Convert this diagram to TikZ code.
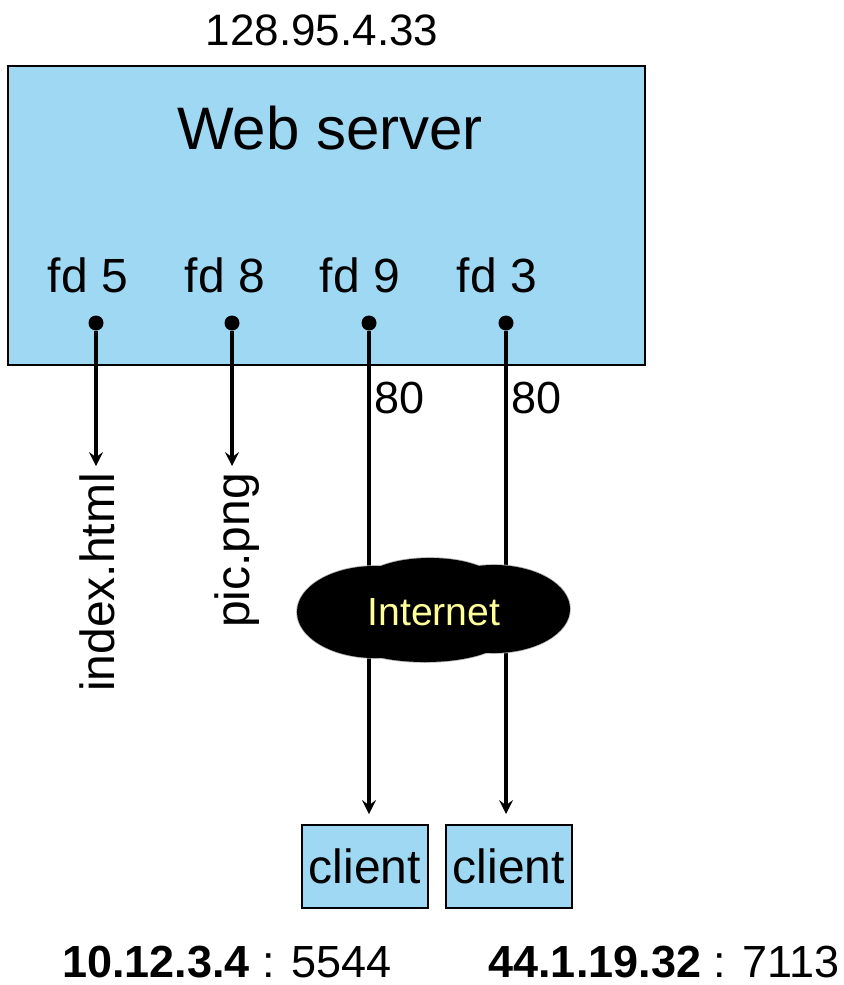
\documentclass[tikz,border=0pt]{standalone}
\usepackage{fontspec}
\setmainfont{Liberation Sans}
\usetikzlibrary{arrows}
\definecolor{srvblue}{HTML}{9FD8F2}
\definecolor{netyellow}{HTML}{FFFF99}

\begin{document}
\begin{tikzpicture}[x=0.5pt,y=-0.5pt,
  box/.style={draw=black, line width=1pt, fill=srvblue, inner sep=0pt},
  fdlabel/.style={font=\fontsize{24}{26}\selectfont},
  socket/.style={circle, fill=black, inner sep=0pt, minimum size=7.5pt},
  link/.style={line width=2pt, >=stealth},
  puff/.style={fill=black, draw=gray!60, line width=0.8pt},
  addr/.style={font=\fontsize{22.5}{24}\selectfont}]
\useasboundingbox (0,0) rectangle (844,985);
% server
\node[box, minimum width=318.5pt, minimum height=149.5pt] (srv) at (326.5,215.5) {};
\node[font=\fontsize{22}{24}\selectfont] (ip) at (322,30) {128.95.4.33};
\node[font=\fontsize{30}{32}\selectfont] (title) at (330,128) {Web server};
\node[fdlabel] (l5) at (88,275) {fd 5};
\node[fdlabel] (l8) at (225,275) {fd 8};
\node[fdlabel] (l9) at (360,275) {fd 9};
\node[fdlabel] (l3) at (497,275) {fd 3};
\node[socket] (d5) at (96,323) {};
\node[socket] (d8) at (232,323) {};
\node[socket] (d9) at (369,323) {};
\node[socket] (d3) at (506,323) {};
% files
\node[fdlabel, anchor=east, rotate=90] (idx) at (97,466) {index.html};
\node[fdlabel, anchor=east, rotate=90] (pic) at (237,466) {pic.png};
\draw[link,->] (d5) -- (d5 |- idx.east);
\draw[link,->] (d8) -- (d8 |- pic.east);
% clients
\node[box, font=\fontsize{24}{26}\selectfont, minimum width=63pt, minimum height=41.5pt] (c1) at (365,866.5) {client};
\node[box, font=\fontsize{24}{26}\selectfont, minimum width=63pt, minimum height=41.5pt] (c2) at (509,866.5) {client};
\draw[link,->,shorten >=5pt] (d9) -- (d9 |- c1.north);
\draw[link,->,shorten >=5pt] (d3) -- (d3 |- c2.north);
\node[addr, anchor=west, inner sep=1pt] (p9) at (372,398) {80};
\node[addr, anchor=west, inner sep=1pt] (p3) at (509,398) {80};
% network
\foreach \cx/\cy/\rx/\ry in {430/584/34/13, 375/612/39/23, 494/609/38/22, 425/636/40/13}
  \draw[puff] (\cx,\cy) ellipse [x radius=\rx pt, y radius=\ry pt];
\foreach \cx/\cy/\rx/\ry in {430/584/34/13, 375/612/39/23, 494/609/38/22, 425/636/40/13}
  \fill[black] (\cx,\cy) ellipse [x radius=\rx pt, y radius=\ry pt];
\node[text=netyellow, font=\fontsize{19.6}{21}\selectfont] (net) at (434,612) {Internet};
\node[addr, inner sep=1pt] (a1) at (227,962) {\textbf{10.12.3.4} : 5544};
\node[addr, inner sep=1pt] (a2) at (664,962) {\textbf{44.1.19.32} : 7113};
\end{tikzpicture}
\end{document}
